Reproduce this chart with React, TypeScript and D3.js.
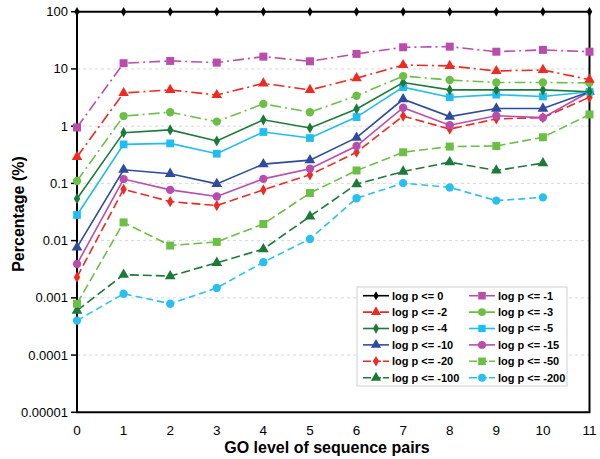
import React, { useRef, useEffect } from "react";
import * as d3 from "d3";

// GO levels on the x axis
const levels = [0, 1, 2, 3, 4, 5, 6, 7, 8, 9, 10, 11];
const yTicks = [100, 10, 1, 0.1, 0.01, 0.001, 0.0001, 0.00001];
const yTickLabels = ["100", "10", "1", "0.1", "0.01", "0.001", "0.0001", "0.00001"];

// percentage per cutoff
const p0 = [100, 100, 100, 100, 100, 100, 100, 100, 100, 100, 100, 100];
const p1 = [0.95, 12.6, 13.8, 12.9, 16.4, 13.6, 18.3, 23.9, 24.5, 20, 21.5, 20];
const p2 = [0.29, 3.8, 4.3, 3.5, 5.6, 4.3, 6.9, 11.7, 11.3, 9.2, 9.6, 6.5];
const p3 = [0.11, 1.5, 1.75, 1.2, 2.45, 1.75, 3.4, 7.5, 6.4, 5.8, 5.8, 5.7];
const p4 = [0.054, 0.77, 0.86, 0.55, 1.29, 0.93, 2.0, 5.8, 4.3, 4.3, 4.3, 4.0];
const p5 = [0.028, 0.48, 0.5, 0.33, 0.79, 0.62, 1.44, 4.8, 3.2, 3.55, 3.3, 4.0];
const p10 = [0.0076, 0.173, 0.147, 0.098, 0.217, 0.255, 0.63, 2.95, 1.47, 2.03, 2.03, 4.0];
const p15 = [0.0039, 0.119, 0.077, 0.059, 0.12, 0.18, 0.45, 2.1, 1.04, 1.52, 1.41, 4.0];
const p20 = [0.0023, 0.079, 0.048, 0.041, 0.077, 0.141, 0.35, 1.5, 0.89, 1.34, 1.41, 3.2];
const p50 = [0.00079, 0.0208, 0.0082, 0.0095, 0.0195, 0.068, 0.168, 0.35, 0.44, 0.45, 0.64, 1.6];
const p100 = [0.0006, 0.00254, 0.0024, 0.0041, 0.0071, 0.0265, 0.097, 0.161, 0.235, 0.168, 0.226];
const p200 = [0.0004, 0.00118, 0.00079, 0.00149, 0.0042, 0.0107, 0.055, 0.101, 0.085, 0.05, 0.057];

const seriesNames = [
  "log p <= 0", "log p <= -1", "log p <= -2", "log p <= -3", "log p <= -4", "log p <= -5",
  "log p <= -10", "log p <= -15", "log p <= -20", "log p <= -50", "log p <= -100", "log p <= -200",
];
const seriesValues = [p0, p1, p2, p3, p4, p5, p10, p15, p20, p50, p100, p200];

const DASHDOT = "11,4,2,4";
const DASHED = "9,4";

const styles = [
  { color: "#000000", dash: null, symbol: d3.symbolDiamond, size: 26 },
  { color: "#b84dab", dash: DASHDOT, symbol: d3.symbolSquare, size: 64 },
  { color: "#ef2a22", dash: DASHDOT, symbol: d3.symbolTriangle, size: 48 },
  { color: "#6bbf45", dash: DASHDOT, symbol: d3.symbolCircle, size: 55 },
  { color: "#1c7a38", dash: null, symbol: d3.symbolDiamond, size: 36 },
  { color: "#1fbdf0", dash: null, symbol: d3.symbolSquare, size: 60 },
  { color: "#2e4b9f", dash: null, symbol: d3.symbolTriangle, size: 50 },
  { color: "#b84dab", dash: null, symbol: d3.symbolCircle, size: 55 },
  { color: "#ef2a22", dash: DASHED, symbol: d3.symbolDiamond, size: 36 },
  { color: "#6bbf45", dash: DASHED, symbol: d3.symbolSquare, size: 64 },
  { color: "#1c7a38", dash: DASHED, symbol: d3.symbolTriangle, size: 50 },
  { color: "#29c0ef", dash: "7,4", symbol: d3.symbolCircle, size: 55 },
];

const App = () => {
  const ref = useRef(null);

  useEffect(() => {
    const width = 600;
    const height = 459;
    const left = 77, right = 589.5, top = 11.7, bottom = 412.3;

    d3.select(ref.current).selectAll("*").remove();
    const svg = d3
      .select(ref.current)
      .append("svg")
      .attr("width", width)
      .attr("height", height)
      .style("font-family", "Liberation Sans, Arial, sans-serif");

    const x = d3.scaleLinear().domain([0, 11]).range([left, right]);
    const y = d3.scaleLog().domain([0.00001, 100]).range([bottom, top]);

    // grid lines at each decade
    svg
      .selectAll("line.grid")
      .data(yTicks.filter((t) => t < 100 && t > 0.00001))
      .enter()
      .append("line")
      .attr("x1", left)
      .attr("x2", right)
      .attr("y1", (d) => y(d))
      .attr("y2", (d) => y(d))
      .attr("stroke", "#d9d9d9")
      .attr("stroke-dasharray", "3,3");

    // y axis ticks and labels
    svg
      .selectAll("line.ytick")
      .data(yTicks)
      .enter()
      .append("line")
      .attr("x1", left - 6)
      .attr("x2", left)
      .attr("y1", (d) => y(d))
      .attr("y2", (d) => y(d))
      .attr("stroke", "#000")
      .attr("stroke-width", 1.5);

    svg
      .selectAll("text.ylab")
      .data(yTicks)
      .enter()
      .append("text")
      .attr("x", left - 9)
      .attr("y", (d) => y(d))
      .attr("dy", "0.35em")
      .attr("text-anchor", "end")
      .style("font-size", "13px")
      .text((d, i) => yTickLabels[i]);

    // x axis labels
    svg
      .selectAll("text.xlab")
      .data(levels)
      .enter()
      .append("text")
      .attr("x", (d) => x(d))
      .attr("y", bottom + 23)
      .attr("text-anchor", "middle")
      .style("font-size", "13.5px")
      .text((d) => d);

    // frame
    svg
      .append("path")
      .attr("d", `M${left},${top}V${bottom}H${right}V${top}`)
      .attr("fill", "none")
      .attr("stroke", "#000")
      .attr("stroke-width", 2);

    // axis titles
    svg
      .append("text")
      .attr("x", 327)
      .attr("y", 453)
      .attr("text-anchor", "middle")
      .style("font-size", "16px")
      .style("font-weight", "bold")
      .text("GO level of sequence pairs");

    svg
      .append("text")
      .attr("transform", "translate(24,214) rotate(-90)")
      .attr("text-anchor", "middle")
      .style("font-size", "16px")
      .style("font-weight", "bold")
      .text("Percentage (%)");

    const line = d3
      .line()
      .x((d, i) => x(levels[i]))
      .y((d) => y(d));

    // draw bottom series first so upper ones sit on top
    for (let s = seriesValues.length - 1; s >= 0; s--) {
      const vals = seriesValues[s];
      const st = styles[s];
      const g = svg.append("g");
      g.append("path")
        .datum(vals)
        .attr("d", line)
        .attr("fill", "none")
        .attr("stroke", st.color)
        .attr("stroke-width", s === 0 ? 2 : 1.6)
        .attr("stroke-dasharray", st.dash);
      g.selectAll("path.m")
        .data(vals)
        .enter()
        .append("path")
        .attr("d", d3.symbol().type(st.symbol).size(st.size))
        .attr("transform", (d, i) => `translate(${x(levels[i])},${y(d)})`)
        .attr("fill", st.color);
    }

    // legend
    const lg = svg.append("g");
    lg.append("rect")
      .attr("x", 357)
      .attr("y", 287)
      .attr("width", 210)
      .attr("height", 99)
      .attr("fill", "#fff")
      .attr("stroke", "#d0d0d0");

    seriesNames.forEach((name, i) => {
      const col = i % 2;
      const row = Math.floor(i / 2);
      const lx = col === 0 ? 363 : 469;
      const ly = 295.7 + row * 16.4;
      const st = styles[i];
      lg.append("line")
        .attr("x1", lx)
        .attr("x2", lx + 26)
        .attr("y1", ly)
        .attr("y2", ly)
        .attr("stroke", st.color)
        .attr("stroke-width", 1.6)
        .attr("stroke-dasharray", st.dash ? (st.dash === DASHDOT ? "9,3,2,3" : "8,2") : null);
      lg.append("path")
        .attr("d", d3.symbol().type(st.symbol).size(st.size * 0.9))
        .attr("transform", `translate(${lx + 13},${ly})`)
        .attr("fill", st.color);
      lg.append("text")
        .attr("x", lx + 29)
        .attr("y", ly)
        .attr("dy", "0.35em")
        .style("font-size", "11px")
        .style("font-weight", "bold")
        .text(name);
    });
  }, []);

  return <div ref={ref} style={{ position: "absolute", left: 0, top: 0 }} />;
};

export default App;
